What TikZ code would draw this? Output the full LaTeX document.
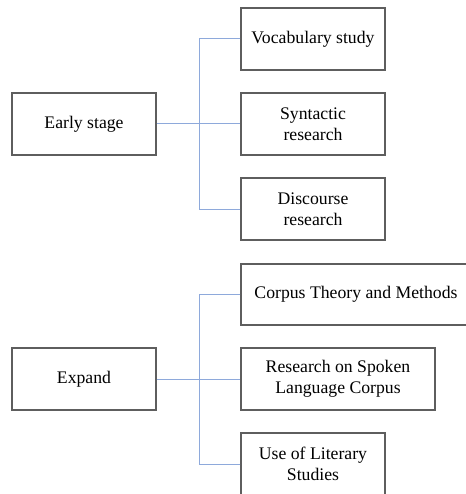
\documentclass[tikz,border=0pt]{standalone}
\usepackage{fontspec}
\setmainfont{Liberation Serif}
\begin{document}
\begin{tikzpicture}[x=1pt,y=-1pt,
  box/.style={draw=boxgray, line width=1.3pt, rectangle, inner sep=0pt, align=center,
    minimum height=62pt, font=\fontsize{17.7}{21}\selectfont, text=black,
    execute at begin node={\vspace*{4pt}}},
  conn/.style={draw=connblue, line width=1pt}]
\definecolor{boxgray}{HTML}{5E5E5E}
\definecolor{connblue}{HTML}{8EA9DB}
\useasboundingbox (0,0) rectangle (465,494);
% top group
\node[box, minimum width=144pt] (early) at (84,124) {Early stage};
\node[box, minimum width=144pt] (vocab) at (313,39) {Vocabulary study};
\node[box, minimum width=144pt] (syn) at (313,124) {Syntactic\\research};
\node[box, minimum width=144pt] (disc) at (313,209) {Discourse\\research};
\coordinate (j1) at (199,124);
\draw[conn] (early.east) -- (syn.west);
\draw[conn] (vocab.west) -| (j1);
\draw[conn] (disc.west) -| (j1);
% bottom group
\node[box, minimum width=144pt] (expand) at (84,379) {Expand};
\node[box, minimum width=230pt, minimum height=61pt] (corpus) at (356,294.5) {Corpus Theory and Methods};
\node[box, minimum width=194pt] (spoken) at (338,379) {Research on Spoken\\Language Corpus};
\node[box, minimum width=144pt] (lit) at (313,464) {Use of Literary\\Studies};
\coordinate (j2) at (199,379);
\draw[conn] (expand.east) -- (spoken.west);
\draw[conn] (corpus.west) -| (j2);
\draw[conn] (lit.west) -| (j2);
\end{tikzpicture}
\end{document}
